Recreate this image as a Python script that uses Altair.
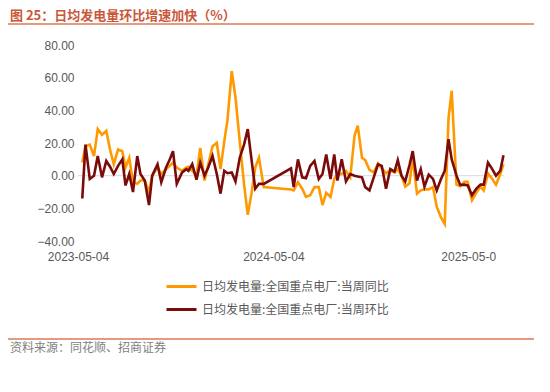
import altair as alt
import pandas as pd

# ---------------- data ----------------
dates = [
    "2023-05-12", "2023-05-18", "2023-05-26", "2023-06-03", "2023-06-10", "2023-06-18",
    "2023-06-26", "2023-07-03", "2023-07-10", "2023-07-18", "2023-07-26", "2023-08-01",
    "2023-08-08", "2023-08-15", "2023-08-23", "2023-08-29", "2023-09-06", "2023-09-14",
    "2023-09-20", "2023-09-30", "2023-10-07", "2023-10-16", "2023-10-23", "2023-10-29",
    "2023-11-05", "2023-11-15", "2023-11-23",
    "2023-11-27", "2023-12-04", "2023-12-12", "2023-12-19", "2023-12-27", "2024-01-03",
    "2024-01-11", "2024-01-19", "2024-01-26", "2024-02-02", "2024-02-08", "2024-02-16",
    "2024-02-23", "2024-03-02", "2024-03-10", "2024-03-17", "2024-03-24", "2024-03-31",
    "2024-04-07", "2024-04-16", "2024-06-06",
    "2024-06-11", "2024-06-19", "2024-06-27", "2024-07-04", "2024-07-12", "2024-07-20",
    "2024-07-28", "2024-08-04", "2024-08-11", "2024-08-19", "2024-08-26", "2024-09-01",
    "2024-09-09", "2024-09-17", "2024-09-25", "2024-10-03", "2024-10-09", "2024-10-17",
    "2024-10-23", "2024-10-31", "2024-11-08", "2024-11-16", "2024-11-23", "2024-12-01",
    "2024-12-09", "2024-12-17", "2024-12-23",
    "2024-12-30", "2025-01-06", "2025-01-14", "2025-01-20", "2025-01-28", "2025-02-04",
    "2025-02-11", "2025-02-19", "2025-02-27", "2025-03-06", "2025-03-14", "2025-03-21",
    "2025-03-28", "2025-04-03", "2025-04-12", "2025-04-19", "2025-04-27", "2025-05-03",
    "2025-05-11", "2025-05-19", "2025-05-27", "2025-06-02", "2025-06-10", "2025-06-18",
    "2025-06-25", "2025-07-03", "2025-07-09",
]

yoy = [  # 当周同比 (orange)
    8, 18, 19, 12, 28.5, 25, 27.5, 16, 7, 16, 15, 5, 11, -4, -5, -3, -3, -10,
    0, 5, 1, 4, 6, 8, 5, 3, 5,
    5.5, 3, 0, 17, -3, 7, 18, 20, 4, 21, 34, 64, 48, 21, -5, -24, -11, 5,
    11, -7, -8.5,
    -9, -4, -8, -13, -12, -7, -7, -18, -10.5, -13, -2, 1, 1, 3, -1, 24.5, 30.6, 11,
    9.5, 3.5, 2, 7.5, 4.5, 1.5, 3, 2, 4,
    0, -6.7, -4.7, 11, -11, -9, -8.4, -8.4, -7, -19, -25.5, -29.5, 35, 52, -5.5,
    -6.5, -3.7, -3.7, -15, -10.5, -6.7, -9, 1.4, -2, -5.5, 1, 7,
]

mom = [  # 当周环比 (dark red)
    -14, 19, -2, 0, 12, -1, 9, 5.5, 1, 6, 10, -6, 1, -10, 12, 1, -3, -18,
    0, 7, -4, 5, 10, 15, -5, 2, 4,
    3, 7, -2.5, 8, 0, 5, 12, 1, -11, 3, 1.5, 2, -3.5, 11, 19, 28.5, 10, -8,
    -5, -5, 4.5,
    -7, 10, -1, -1.5, 6, 9, -2, 1, 13, -2, 13, -3, 10, -3.5, 1, 0, -0.5, -1,
    -7, -9, -1, 7, 6, -8, 4, 2.5, 9.5,
    0, -3.5, 6.5, 15, -3, 4, -6.7, 0.6, -2, -9, -2, 3, 22.4, 10, 0,
    -5.7, -5.5, -6, -12, -8, -5.5, -5.5, 8, 4, 0, 3, 12.5,
]

series_names = ["日均发电量:全国重点电厂:当周同比", "日均发电量:全国重点电厂:当周环比"]
series_colors = ["#FF9900", "#7B0A0A"]

y_ticks = [-40, -20, 0, 20, 40, 60, 80]
x_tick_dates = ["2023-05-04", "2024-05-04", "2025-05-04"]
x_tick_labels = ["2023-05-04", "2024-05-04", "2025-05-0"]
x_domain = ["2023-05-04", "2025-07-10"]

title_text = "图 25：日均发电量环比增速加快（%）"
source_text = "资料来源：同花顺、招商证券"

# ---------------- build ----------------
n = len(dates)
df = pd.DataFrame({
    "date": dates + dates,
    "value": yoy + mom,
    "series": [series_names[0]] * n + [series_names[1]] * n,
})


def dt(s):
    y, m, d = (int(v) for v in s.split("-"))
    return alt.DateTime(year=y, month=m, date=d, utc=True)


label_map = "{" + ",".join(f"'{a}':'{b}'" for a, b in zip(x_tick_dates, x_tick_labels)) + "}"

W, H = 426, 196
LABEL_GRAY = "#595959"
NUM_FONT = "Liberation Sans"
CJK_FONT = "Noto Sans CJK SC"

y_scale = alt.Scale(domain=[y_ticks[0], y_ticks[-1]], nice=False, zero=False)
y_axis = alt.Axis(
    values=y_ticks, format=".2f", title=None, grid=False, ticks=False,
    domain=False, labelPadding=4, labelFont=NUM_FONT, labelFontSize=12,
    labelColor=LABEL_GRAY, labelOverlap=False,
)

x_enc = alt.X(
    "date:T",
    scale=alt.Scale(type="utc", domain=[dt(x_domain[0]), dt(x_domain[1])]),
    axis=alt.Axis(
        values=[dt(s) for s in x_tick_dates],
        labelExpr=f"{label_map}[utcFormat(datum.value, '%Y-%m-%d')]",
        title=None, grid=False, ticks=False, domain=False,
        labelFlush=False, labelOverlap=False, labelPadding=10,
        labelFont=NUM_FONT, labelFontSize=12, labelColor=LABEL_GRAY,
    ),
)

lines = alt.Chart(df).mark_line(strokeWidth=2.6).encode(
    x=x_enc,
    y=alt.Y("value:Q", scale=y_scale, axis=y_axis),
    color=alt.Color(
        "series:N",
        scale=alt.Scale(domain=series_names, range=series_colors),
        legend=alt.Legend(
            title=None, orient="none", legendX=87, legendY=225,
            direction="vertical", symbolType="stroke", symbolSize=900,
            symbolStrokeWidth=3, labelFont=CJK_FONT, labelFontSize=12,
            labelColor=LABEL_GRAY, labelLimit=400, labelOffset=4,
            rowPadding=-9,
        ),
    ),
)

zero = alt.Chart(pd.DataFrame({"value": [0]})).mark_rule(
    color="#D9D9D9", strokeWidth=1
).encode(y=alt.Y("value:Q", scale=y_scale, axis=y_axis))

title = alt.Chart(pd.DataFrame({"t": [title_text]})).mark_text(
    align="left", baseline="top", font=CJK_FONT, fontSize=13,
    fontWeight="bold", color="#C9583A",
).encode(x=alt.value(-68), y=alt.value(-35), text="t:N")

top_line = alt.Chart(pd.DataFrame({"a": [0]})).mark_rule(
    color="#E39A7E", strokeWidth=2
).encode(x=alt.value(-70), x2=alt.value(464), y=alt.value(-21))

bottom_line = alt.Chart(pd.DataFrame({"a": [0]})).mark_rule(
    color="#E39A7E", strokeWidth=2
).encode(x=alt.value(-70), x2=alt.value(464), y=alt.value(294))

source = alt.Chart(pd.DataFrame({"t": [source_text]})).mark_text(
    align="left", baseline="middle", font=CJK_FONT, fontSize=12,
    color="#7F7F7F",
).encode(x=alt.value(-68), y=alt.value(303), text="t:N")

chart = alt.layer(zero, lines, title, top_line, bottom_line, source).properties(
    width=W, height=H,
    autosize=alt.AutoSizeParams(type="none"),
    padding={"left": 70, "top": 37, "right": 30, "bottom": 130},
).configure_view(stroke=None)

chart.save("out.html", embed_options={"renderer": "svg", "actions": False})
